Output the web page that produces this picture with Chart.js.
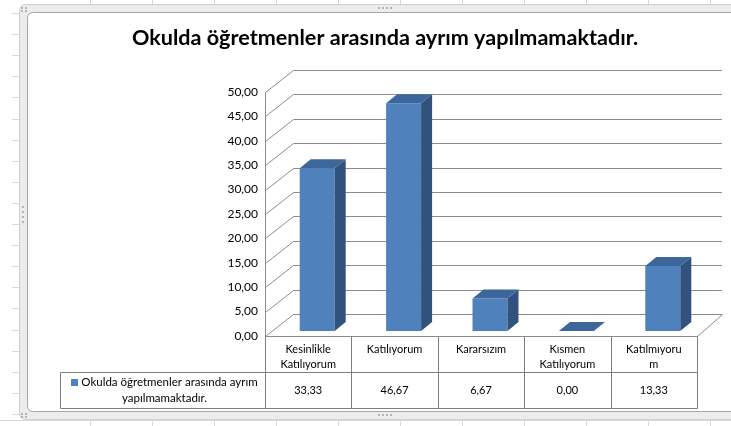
<!DOCTYPE html>
<html>
<head>
<meta charset="utf-8">
<script src="https://cdn.jsdelivr.net/npm/chart.js@4/dist/chart.umd.min.js"></script>
<style>
  html, body { margin: 0; padding: 0; background: #fff; }
  #c { display: block; }
</style>
</head>
<body>
<canvas id="c" width="731" height="426"></canvas>
<script>
var chartTitle = 'Okulda öğretmenler arasında ayrım yapılmamaktadır.';
var seriesName = ['Okulda öğretmenler arasında ayrım', 'yapılmamaktadır.'];
var categories = ['Kesinlikle Katılıyorum', 'Katılıyorum', 'Kararsızım', 'Kısmen Katılıyorum', 'Katılmıyorum'];
var categoryLines = [['Kesinlikle', 'Katılıyorum'], ['Katılıyorum'], ['Kararsızım'], ['Kısmen', 'Katılıyorum'], ['Katılmıyoru', 'm']];
var values = [33.33, 46.67, 6.67, 0.00, 13.33];
var yMin = 0, yMax = 50, yStep = 5;

var FONT = 'Lato, "Open Sans", sans-serif';
var FRONT = '#4F81BD', SIDE = '#31527C', TOP = '#3D679A';
var GRID = '#8c8c8c', TABLE = '#7f7f7f';

function fmt(v) { return v.toFixed(2).replace('.', ','); }

// excel sheet + chart frame behind everything
var sheetFrame = {
  id: 'sheetFrame',
  beforeDraw: function(chart) {
    var ctx = chart.ctx;
    ctx.save();
    ctx.fillStyle = '#fff';
    ctx.fillRect(0, 0, chart.width, chart.height);
    ctx.strokeStyle = '#d9d9d9';
    ctx.lineWidth = 1;
    for (var cx = 90; cx < chart.width; cx += 62) {
      ctx.beginPath(); ctx.moveTo(cx + 0.5, 0); ctx.lineTo(cx + 0.5, 5); ctx.stroke();
      ctx.beginPath(); ctx.moveTo(cx + 0.5, 419); ctx.lineTo(cx + 0.5, 426); ctx.stroke();
    }
    for (var ry = 13; ry < chart.height; ry += 21.1) {
      ctx.beginPath(); ctx.moveTo(12, Math.round(ry) + 0.5); ctx.lineTo(19, Math.round(ry) + 0.5); ctx.stroke();
    }
    ctx.beginPath(); ctx.moveTo(0, 420.5); ctx.lineTo(chart.width, 420.5); ctx.stroke();
    // selection band
    ctx.fillStyle = '#ececec';
    ctx.strokeStyle = '#cfcfcf';
    ctx.beginPath();
    ctx.roundRect(19.5, 4.5, 740, 415, 6);
    ctx.fill(); ctx.stroke();
    // chart area
    ctx.fillStyle = '#fff';
    ctx.strokeStyle = '#a6a6a6';
    ctx.beginPath();
    ctx.roundRect(27.5, 12.5, 740, 399, 5);
    ctx.fill(); ctx.stroke();
    // handles
    ctx.fillStyle = '#b5b5b5';
    for (var i = 0; i < 4; i++) {
      ctx.fillRect(378 + i * 4, 7, 2, 2);
      ctx.fillRect(378 + i * 4, 414, 2, 2);
      ctx.fillRect(22, 206 + i * 5, 2, 2);
    }
    [[21, 7], [25, 7], [21, 10], [25, 10], [21, 413], [25, 413], [21, 416], [25, 416]].forEach(function(p) {
      ctx.fillRect(p[0], p[1], 2, 2);
    });
    ctx.restore();
  }
};

// walls, floor and 3d grid; bars get shifted to mid-depth
var depthX = 28, depthY = -22, depthXR = 25;
var barDX = 9, barDY = -5;
var sideDX = 11, sideDY = -9;

var walls3d = {
  id: 'walls3d',
  beforeDatasetsDraw: function(chart) {
    var ctx = chart.ctx, a = chart.chartArea, y = chart.scales.y;
    ctx.save();
    ctx.strokeStyle = GRID;
    ctx.lineWidth = 1;
    y.ticks.forEach(function(t) {
      var py = Math.round(y.getPixelForValue(t.value)) + 0.5;
      ctx.beginPath();
      ctx.moveTo(a.left + 0.5, py);
      ctx.lineTo(a.left + depthX + 0.5, py + depthY);
      ctx.lineTo(a.right + depthXR, py + depthY);
      ctx.stroke();
    });
    var y0 = Math.round(y.getPixelForValue(yMin)) + 0.5;
    var y1 = Math.round(y.getPixelForValue(yMax)) + 0.5;
    ctx.beginPath();
    ctx.moveTo(a.left + 0.5, y1);
    ctx.lineTo(a.left + 0.5, y0);
    ctx.lineTo(a.right + 0.5, y0);
    ctx.lineTo(a.right + depthXR + 0.5, y0 + depthY);
    ctx.stroke();
    ctx.restore();
    ctx.save();
    ctx.translate(barDX, barDY);
  },
  afterDatasetsDraw: function(chart) {
    var ctx = chart.ctx;
    var meta = chart.getDatasetMeta(0);
    meta.data.forEach(function(bar) {
      var p = bar.getProps(['x', 'y', 'base', 'width'], true);
      var l = p.x - p.width / 2, r = p.x + p.width / 2, t = p.y, b = p.base;
      ctx.fillStyle = SIDE;
      ctx.beginPath();
      ctx.moveTo(r, t); ctx.lineTo(r + sideDX, t + sideDY);
      ctx.lineTo(r + sideDX, b + sideDY); ctx.lineTo(r, b);
      ctx.closePath(); ctx.fill();
      ctx.fillStyle = TOP;
      ctx.beginPath();
      ctx.moveTo(l, t); ctx.lineTo(r, t);
      ctx.lineTo(r + sideDX, t + sideDY); ctx.lineTo(l + sideDX, t + sideDY);
      ctx.closePath(); ctx.fill();
    });
    ctx.restore();
  }
};

// data table under the plot
var rowH = 36, tableLeft = 60;
var dataTable = {
  id: 'dataTable',
  afterDraw: function(chart) {
    var ctx = chart.ctx, a = chart.chartArea, x = chart.scales.x;
    var colW = (a.right - a.left) / categories.length;
    var top = Math.round(a.bottom) + 0.5;
    var mid = top + rowH, bot = top + rowH * 2;
    ctx.save();
    ctx.strokeStyle = TABLE;
    ctx.lineWidth = 1;
    ctx.beginPath();
    ctx.moveTo(tableLeft + 0.5, mid); ctx.lineTo(a.right + 0.5, mid);
    ctx.moveTo(tableLeft + 0.5, bot); ctx.lineTo(a.right + 0.5, bot);
    ctx.moveTo(tableLeft + 0.5, mid); ctx.lineTo(tableLeft + 0.5, bot);
    for (var i = 0; i <= categories.length; i++) {
      var ex = Math.round(a.left + i * colW) + 0.5;
      ctx.moveTo(ex, top); ctx.lineTo(ex, bot);
    }
    ctx.stroke();

    ctx.fillStyle = '#000';
    ctx.font = '11px ' + FONT;
    ctx.textAlign = 'center';
    ctx.textBaseline = 'middle';
    categories.forEach(function(c, i) {
      var cx = x.getPixelForValue(i);
      categoryLines[i].forEach(function(line, k) {
        ctx.fillText(line, cx, top + 13 + k * 15);
      });
      ctx.fillText(fmt(values[i]), cx, mid + rowH / 2);
    });

    // legend key + series name
    ctx.font = '11.5px ' + FONT;
    var lx = (tableLeft + a.left) / 2 + 2;
    var w0 = ctx.measureText(seriesName[0]).width;
    var key = 7, gap = 3;
    var sx = lx - (w0 + key + gap) / 2;
    ctx.fillStyle = FRONT;
    ctx.fillRect(Math.round(sx), Math.round(mid + 10 - key / 2), key, key);
    ctx.fillStyle = '#000';
    ctx.textAlign = 'left';
    ctx.fillText(seriesName[0], sx + key + gap, mid + 10);
    ctx.textAlign = 'center';
    ctx.fillText(seriesName[1], lx, mid + 26);
    ctx.restore();
  }
};

var ctx = document.getElementById('c').getContext('2d');
new Chart(ctx, {
  type: 'bar',
  data: {
    labels: categories,
    datasets: [{
      label: seriesName.join(' '),
      data: values,
      backgroundColor: FRONT,
      borderWidth: 0,
      categoryPercentage: 1,
      barPercentage: 0.405
    }]
  },
  options: {
    responsive: false,
    animation: false,
    devicePixelRatio: 1,
    layout: { padding: { left: 73, right: 34, top: 0, bottom: 90 } },
    plugins: {
      legend: { display: false },
      tooltip: { enabled: false },
      title: {
        display: true,
        text: chartTitle,
        color: '#000',
        font: { family: FONT, size: 21.6, weight: 'bold' },
        padding: { top: 25, bottom: 41 }
      }
    },
    scales: {
      x: { display: false },
      y: {
        min: yMin,
        max: yMax,
        grid: { display: false, drawTicks: false },
        border: { display: false },
        ticks: {
          stepSize: yStep,
          padding: 7,
          color: '#000',
          font: { family: FONT, size: 12 },
          callback: function(v) { return fmt(v); }
        },
        afterFit: function(scale) { scale.width = 192; }
      }
    }
  },
  plugins: [sheetFrame, walls3d, dataTable]
});
</script>
</body>
</html>
